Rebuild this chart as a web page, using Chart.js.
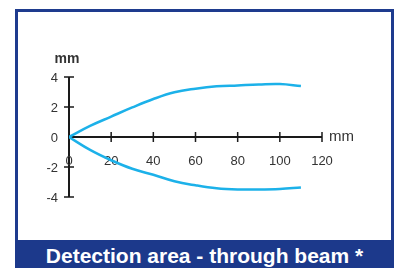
<!DOCTYPE html>
<html>
<head>
<meta charset="utf-8">
<script src="https://cdn.jsdelivr.net/npm/chart.js@4"></script>
<style>
  html, body { margin: 0; padding: 0; background: #fff; }
  body { width: 398px; height: 268px; position: relative; overflow: hidden; }
  #frame {
    position: absolute; left: 15px; top: 9px; width: 373px; height: 259px;
    border: 3px solid #1e3b8e; border-bottom: none; background: #fff;
  }
  #footer {
    position: absolute; left: 15px; top: 240px; width: 379px; height: 28px;
    background: #1c398b; color: #fff; text-align: center;
    font: bold 21px "Liberation Sans", Arial, sans-serif; line-height: 32px;
  }
  #chart { position: absolute; left: 0; top: 0; }
</style>
</head>
<body>
<div id="frame"></div>
<div id="footer">Detection area - through beam *</div>
<canvas id="chart" width="398" height="268"></canvas>
<script>
const distances = [0, 10, 20, 30, 40, 50, 60, 70, 80, 90, 100, 110];
const upperEdge = [0, 0.74, 1.36, 1.97, 2.53, 2.98, 3.22, 3.38, 3.44, 3.5, 3.53, 3.4];
const lowerEdge = [0, -0.86, -1.55, -2.12, -2.52, -2.95, -3.22, -3.42, -3.5, -3.5, -3.46, -3.36];
const xTicks = [0, 20, 40, 60, 80, 100, 120];
const yTicks = [4, 2, 0, -2, -4];
const axisUnit = "mm";

const beamColor = "#1cb1e9";
const labelFont = '13px "Liberation Sans", Arial, sans-serif';

// axes cross at the origin, so draw them by hand off the chart's scales
const crossAxes = {
  id: "crossAxes",
  beforeDatasetsDraw(chart) {
    const { ctx, scales } = chart;
    const sx = scales.x, sy = scales.y;
    const x0 = sx.getPixelForValue(0), y0 = sy.getPixelForValue(0);
    ctx.save();
    ctx.strokeStyle = "#1a1a1a";
    ctx.lineWidth = 2;
    ctx.beginPath();
    ctx.moveTo(x0, y0);
    ctx.lineTo(sx.getPixelForValue(120), y0);
    ctx.moveTo(x0, sy.getPixelForValue(4));
    ctx.lineTo(x0, sy.getPixelForValue(-4));
    ctx.stroke();

    ctx.lineWidth = 1.5;
    ctx.beginPath();
    for (const t of xTicks) {
      if (t === 0) continue;
      const px = sx.getPixelForValue(t);
      ctx.moveTo(px, y0 - 5);
      ctx.lineTo(px, y0 + 5);
    }
    for (const t of yTicks) {
      if (t === 0) continue;
      const py = sy.getPixelForValue(t);
      ctx.moveTo(x0 - 5, py);
      ctx.lineTo(x0 + 5, py);
    }
    ctx.stroke();

    ctx.fillStyle = "#333";
    ctx.font = labelFont;
    ctx.textBaseline = "middle";
    ctx.textAlign = "center";
    for (const t of xTicks) {
      ctx.fillText(String(t), sx.getPixelForValue(t), y0 + 24);
    }
    ctx.textAlign = "right";
    for (const t of yTicks) {
      ctx.fillText(String(t), x0 - 11, sy.getPixelForValue(t) + 1);
    }

    ctx.font = '15px "Liberation Sans", Arial, sans-serif';
    ctx.textAlign = "left";
    ctx.fillText(axisUnit, sx.getPixelForValue(120) + 7, y0);
    ctx.font = 'bold 14px "Liberation Sans", Arial, sans-serif';
    ctx.textAlign = "center";
    ctx.fillText(axisUnit, x0 - 2, sy.getPixelForValue(4) - 18);
    ctx.restore();
  }
};

const toPoints = (ys) => distances.map((d, i) => ({ x: d, y: ys[i] }));

new Chart(document.getElementById("chart"), {
  type: "line",
  data: {
    datasets: [
      { data: toPoints(upperEdge), borderColor: beamColor, borderWidth: 2.5, pointRadius: 0, tension: 0.4 },
      { data: toPoints(lowerEdge), borderColor: beamColor, borderWidth: 2.5, pointRadius: 0, tension: 0.4 },
    ],
  },
  options: {
    responsive: false,
    animation: false,
    events: [],
    layout: { padding: { left: 69, right: 76, top: 77, bottom: 71 } },
    plugins: { legend: { display: false }, tooltip: { enabled: false } },
    scales: {
      x: { type: "linear", min: 0, max: 120, display: false },
      y: { type: "linear", min: -4, max: 4, display: false },
    },
  },
  plugins: [crossAxes],
});
</script>
</body>
</html>
